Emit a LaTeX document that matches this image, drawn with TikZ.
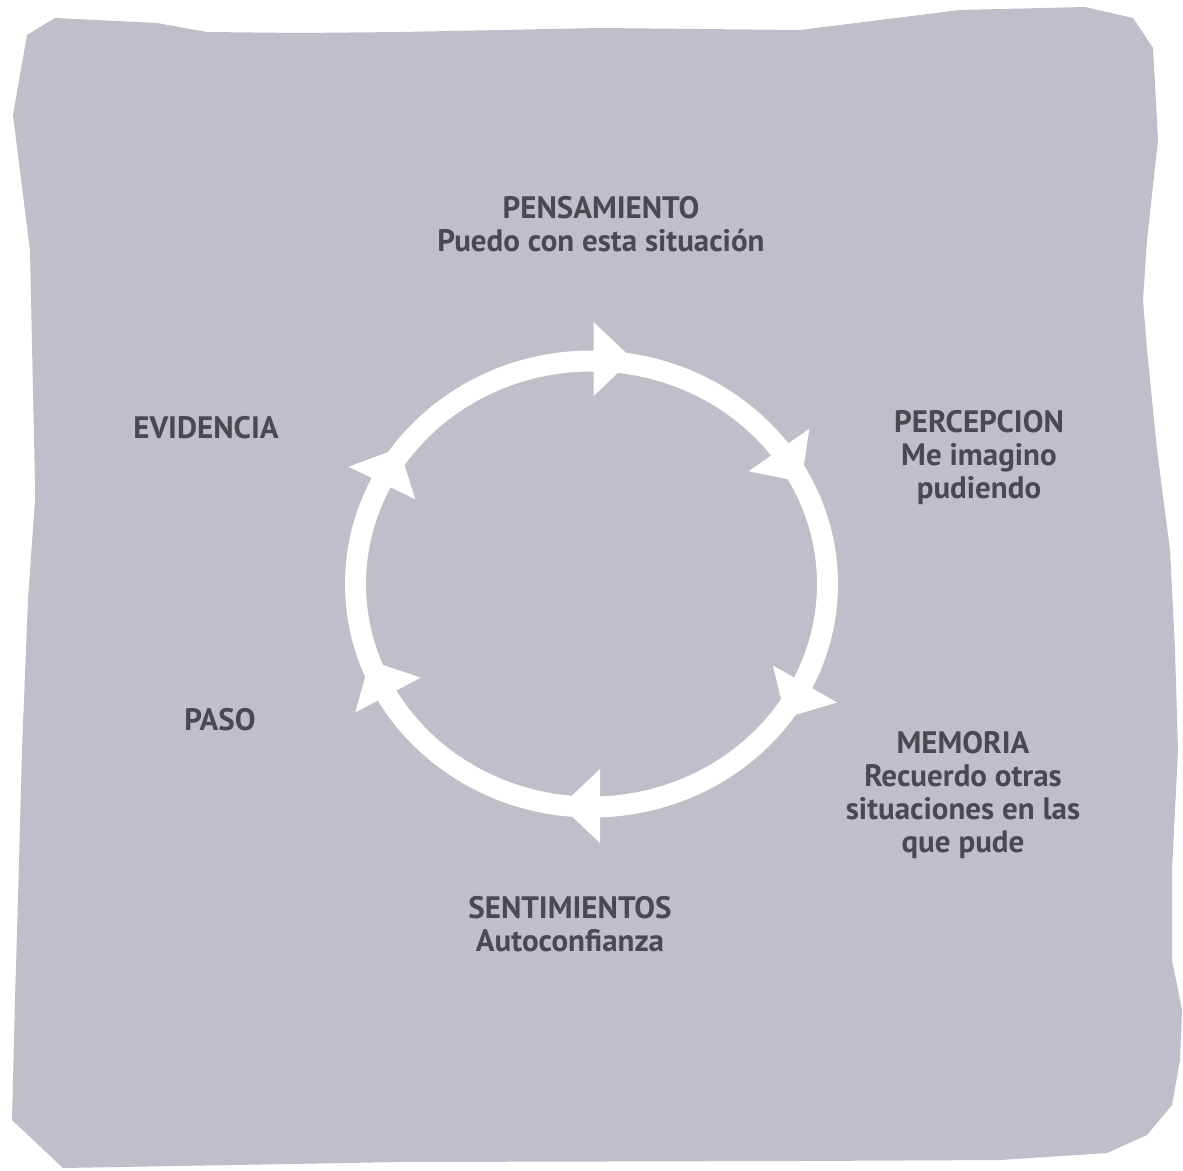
\documentclass[tikz,border=0pt]{standalone}
\usepackage{fontspec}
\setmainfont{PT Sans}
\definecolor{paper}{RGB}{191,190,201}
\definecolor{ink}{RGB}{74,73,80}
\tikzset{
  lbl/.style={anchor=base, align=center, inner sep=0pt, text=ink,
    font=\bfseries\fontsize{31}{33}\selectfont},
  ring/.style={draw=white, line width=21pt},
  head/.style={fill=white, draw=none}
}
\begin{document}
\begin{tikzpicture}[x=1pt,y=-1pt]
\useasboundingbox (0,0) rectangle (1183,1170);
\fill[white] (0,0) rectangle (1183,1170);
% gray irregular sheet
\fill[paper] (55,18) -- (157,23) -- (207,32) -- (300,33) -- (400,32) -- (600,28)
  -- (800,30) -- (960,10) -- (1085,7) -- (1133,18) -- (1153,48) -- (1158,140)
  -- (1147,240) -- (1143,300) -- (1147,350) -- (1157,450) -- (1170,550)
  -- (1175,650) -- (1178,750) -- (1172,870) -- (1172,960) -- (1182,1010)
  -- (1180,1060) -- (1172,1105) -- (1147,1135) -- (1107,1153) -- (1000,1160)
  -- (800,1161) -- (400,1162) -- (63,1168) -- (12,1120) -- (15,1000)
  -- (18,900) -- (22,750) -- (28,600) -- (35,500) -- (35,483) -- (30,250)
  -- (13,115) -- (27,35) -- cycle;
% ring
\coordinate (c) at (591.5,584);
\draw[ring] (c) ellipse [x radius=236, y radius=223];
% arrowheads (base centred on the ring, pointing clockwise)
\foreach \px/\py/\ang in {593.5/359/0, 779/450/-55, 805/684/-120,
                          600/806/180, 388/695/118, 382/483/64}{
  \begin{scope}[shift={(\px,\py)}, rotate=\ang]
    \fill[head] (0,-37) -- (39,0) -- (0,37) -- cycle;
  \end{scope}
}
% labels (anchor at the baseline of the last line)
\node[lbl] (pens) at (601,251) {PENSAMIENTO\\Puedo con esta situación};
\node[lbl] (perc) at (979,498) {PERCEPCION\\Me imagino\\pudiendo};
\node[lbl] (memo) at (963,852) {MEMORIA\\Recuerdo otras\\situaciones en las\\que pude};
\node[lbl] (sent) at (570,951) {SENTIMIENTOS\\Autoconfianza};
\node[lbl] (evid) at (206,438) {EVIDENCIA};
\node[lbl] (paso) at (220,730) {PASO};
\end{tikzpicture}
\end{document}
